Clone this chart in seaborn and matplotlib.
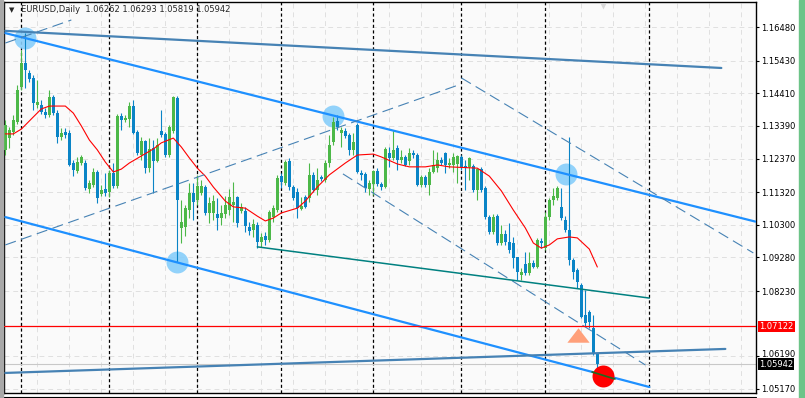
import numpy as np
import matplotlib
matplotlib.use("Agg")
import matplotlib.pyplot as plt
import matplotlib.transforms as mtransforms
from matplotlib.patches import Rectangle
from matplotlib.lines import Line2D
import seaborn as sns

sns.set_style("white")
plt.rcParams["font.family"] = ["DejaVu Sans"]

# --- EURUSD daily bars ---
opens = [
    1.1264, 1.1301, 1.1320, 1.1351, 1.1461, 1.1536, 1.1504, 1.1489, 1.1404, 1.1404,
    1.1382, 1.1373, 1.1429, 1.1379, 1.1304, 1.1320, 1.1317, 1.1223, 1.1198, 1.1223,
    1.1223, 1.1142, 1.1154, 1.1195, 1.1126, 1.1142, 1.1132, 1.1192, 1.1151, 1.1370,
    1.1357, 1.1361, 1.1401, 1.1320, 1.1248, 1.1292, 1.1207, 1.1270, 1.1229, 1.1323,
    1.1314, 1.1248, 1.1323, 1.1426, 1.1020, 1.1023, 1.1076, 1.1129, 1.1107, 1.1129,
    1.1148, 1.1067, 1.1067, 1.1064, 1.1051, 1.1064, 1.1076, 1.1092, 1.1117, 1.1073,
    1.1073, 1.1023, 1.1014, 1.1029, 1.0976, 1.0995, 1.0982, 1.1054, 1.1076, 1.1182,
    1.1161, 1.1229, 1.1148, 1.1132, 1.1079, 1.1117, 1.1114, 1.1186, 1.1139, 1.1179,
    1.1170, 1.1223, 1.1289, 1.1354, 1.1317, 1.1323, 1.1311, 1.1264, 1.1342, 1.1192,
    1.1189, 1.1142, 1.1157, 1.1198, 1.1157, 1.1148, 1.1254, 1.1239, 1.1270, 1.1232,
    1.1242, 1.1229, 1.1254, 1.1248, 1.1154, 1.1179, 1.1154, 1.1195, 1.1207, 1.1232,
    1.1254, 1.1217, 1.1217, 1.1220, 1.1242, 1.1214, 1.1211, 1.1214, 1.1139, 1.1204,
    1.1145, 1.1054, 1.1007, 1.1057, 1.0973, 1.1001, 1.0976, 1.0973, 1.0929, 1.0873,
    1.0907, 1.0879, 1.0911, 1.0898, 1.0979, 1.0957, 1.1054, 1.1107, 1.1114, 1.1086,
    1.1045, 1.1014, 1.0920, 1.0889, 1.0842, 1.0748, 1.0757, 1.0707, 1.06262,
]
highs = [
    1.1357, 1.1336, 1.1373, 1.1467, 1.1576, 1.1629, 1.1514, 1.1498, 1.1482, 1.1420,
    1.1395, 1.1451, 1.1436, 1.1389, 1.1332, 1.1332, 1.1326, 1.1232, 1.1242, 1.1248,
    1.1232, 1.1170, 1.1207, 1.1201, 1.1154, 1.1192, 1.1201, 1.1223, 1.1376, 1.1379,
    1.1373, 1.1414, 1.1420, 1.1326, 1.1304, 1.1295, 1.1301, 1.1295, 1.1301, 1.1389,
    1.1320, 1.1342, 1.1432, 1.1432, 1.1107, 1.1092, 1.1161, 1.1161, 1.1186, 1.1170,
    1.1154, 1.1117, 1.1123, 1.1114, 1.1092, 1.1120, 1.1142, 1.1164, 1.1120, 1.1098,
    1.1086, 1.1039, 1.1048, 1.1039, 1.1004, 1.1007, 1.1076, 1.1092, 1.1186, 1.1192,
    1.1232, 1.1239, 1.1154, 1.1145, 1.1117, 1.1123, 1.1223, 1.1195, 1.1207, 1.1186,
    1.1232, 1.1311, 1.1367, 1.1373, 1.1336, 1.1332, 1.1317, 1.1317, 1.1348, 1.1201,
    1.1195, 1.1170, 1.1201, 1.1207, 1.1164, 1.1273, 1.1273, 1.1326, 1.1279, 1.1264,
    1.1248, 1.1270, 1.1264, 1.1254, 1.1186, 1.1186, 1.1207, 1.1264, 1.1257, 1.1242,
    1.1257, 1.1239, 1.1254, 1.1248, 1.1248, 1.1232, 1.1242, 1.1220, 1.1207, 1.1211,
    1.1151, 1.1061, 1.1064, 1.1064, 1.1029, 1.1014, 1.1036, 1.0992, 1.0929, 1.0895,
    1.0945, 1.0945, 1.0920, 1.0989, 1.0989, 1.1070, 1.1114, 1.1145, 1.1151, 1.1145,
    1.1057, 1.1304, 1.0926, 1.0895, 1.0848, 1.0826, 1.0764, 1.0748, 1.06293,
]
lows = [
    1.1248, 1.1270, 1.1311, 1.1345, 1.1451, 1.1457, 1.1476, 1.1389, 1.1395, 1.1376,
    1.1364, 1.1367, 1.1373, 1.1286, 1.1295, 1.1301, 1.1214, 1.1182, 1.1192, 1.1217,
    1.1139, 1.1129, 1.1148, 1.1098, 1.1120, 1.1120, 1.1117, 1.1145, 1.1145, 1.1326,
    1.1351, 1.1336, 1.1314, 1.1248, 1.1232, 1.1192, 1.1195, 1.1129, 1.1226, 1.1304,
    1.1242, 1.1242, 1.1317, 1.0914, 1.0973, 1.0995, 1.1051, 1.1045, 1.1092, 1.1123,
    1.1061, 1.1036, 1.1045, 1.1014, 1.1029, 1.1051, 1.1061, 1.1039, 1.1023, 1.1067,
    1.1007, 1.0998, 1.0992, 1.0957, 1.0961, 1.0967, 1.0976, 1.1039, 1.1070, 1.1145,
    1.1154, 1.1139, 1.1107, 1.1051, 1.1076, 1.1082, 1.1101, 1.1132, 1.1123, 1.1167,
    1.1164, 1.1211, 1.1279, 1.1326, 1.1273, 1.1301, 1.1248, 1.1248, 1.1192, 1.1170,
    1.1132, 1.1123, 1.1123, 1.1151, 1.1139, 1.1145, 1.1211, 1.1232, 1.1201, 1.1223,
    1.1214, 1.1217, 1.1239, 1.1151, 1.1148, 1.1148, 1.1123, 1.1192, 1.1195, 1.1217,
    1.1192, 1.1207, 1.1195, 1.1161, 1.1201, 1.1139, 1.1170, 1.1132, 1.1107, 1.1132,
    1.1048, 1.1001, 1.1001, 1.0967, 1.0967, 1.0967, 1.0942, 1.0895, 1.0857, 1.0857,
    1.0873, 1.0873, 1.0895, 1.0895, 1.0957, 1.0951, 1.1045, 1.1092, 1.1107, 1.1045,
    1.1007, 1.0904, 1.0861, 1.0832, 1.0739, 1.0714, 1.0707, 1.0623, 1.05819,
]
closes = [
    1.1342, 1.1326, 1.1357, 1.1451, 1.1536, 1.1514, 1.1486, 1.1411, 1.1414, 1.1382,
    1.1373, 1.1429, 1.1379, 1.1304, 1.1317, 1.1311, 1.1217, 1.1201, 1.1226, 1.1242,
    1.1145, 1.1161, 1.1195, 1.1114, 1.1139, 1.1129, 1.1192, 1.1151, 1.1370, 1.1357,
    1.1364, 1.1401, 1.1317, 1.1254, 1.1292, 1.1207, 1.1267, 1.1229, 1.1279, 1.1311,
    1.1248, 1.1336, 1.1429, 1.1107, 1.1039, 1.1082, 1.1129, 1.1101, 1.1151, 1.1151,
    1.1067, 1.1098, 1.1104, 1.1051, 1.1067, 1.1092, 1.1117, 1.1101, 1.1036, 1.1086,
    1.1026, 1.1011, 1.1032, 1.0976, 1.0992, 1.0982, 1.1070, 1.1082, 1.1176, 1.1164,
    1.1226, 1.1148, 1.1114, 1.1082, 1.1089, 1.1086, 1.1186, 1.1139, 1.1170, 1.1173,
    1.1223, 1.1279, 1.1351, 1.1336, 1.1326, 1.1307, 1.1264, 1.1289, 1.1195, 1.1186,
    1.1145, 1.1161, 1.1198, 1.1157, 1.1148, 1.1267, 1.1239, 1.1264, 1.1232, 1.1242,
    1.1217, 1.1254, 1.1248, 1.1154, 1.1179, 1.1154, 1.1195, 1.1217, 1.1232, 1.1223,
    1.1217, 1.1223, 1.1242, 1.1245, 1.1211, 1.1207, 1.1239, 1.1139, 1.1204, 1.1139,
    1.1054, 1.1007, 1.1054, 1.0973, 1.1001, 1.0976, 1.0951, 1.0926, 1.0882, 1.0882,
    1.0879, 1.0911, 1.0898, 1.0982, 1.0973, 1.1054, 1.1107, 1.1120, 1.1145, 1.1051,
    1.1014, 1.0920, 1.0882, 1.0851, 1.0742, 1.0723, 1.0726, 1.0629, 1.05942,
]

# moving average (bar number, value)
ma_bars = [1, 3, 5, 8, 10, 12, 16, 18, 20, 22, 24, 26, 28, 30, 32, 35, 38, 40, 43, 45,
           47, 49, 51, 53, 56, 58, 61, 64, 66, 68, 70, 74, 76, 79, 82, 86, 89, 93, 95, 99,
           102, 106, 109, 112, 119, 122, 125, 128, 131, 133, 135, 137, 139, 142, 144, 147, 149]
ma_vals = [1.1314, 1.1314, 1.1329, 1.1367, 1.1392, 1.1401, 1.1401, 1.1379, 1.1339, 1.1295,
           1.1264, 1.1226, 1.1195, 1.1204, 1.1223, 1.1245, 1.1267, 1.1286, 1.1301, 1.1273,
           1.1239, 1.1207, 1.1182, 1.1148, 1.1104, 1.1086, 1.1082, 1.1057, 1.1042, 1.1051,
           1.1067, 1.1082, 1.1104, 1.1148, 1.1186, 1.1223, 1.1248, 1.1251, 1.1242, 1.1220,
           1.1211, 1.1211, 1.1217, 1.1211, 1.1207, 1.1182, 1.1136, 1.1076, 1.1020, 1.0973,
           1.0957, 1.0967, 1.0986, 1.0992, 1.0989, 1.0954, 1.0898]

# trend lines / objects
chan_top_bars, chan_top_prices = [1, 188.5], [1.1629, 1.1040]
chan_bot_bars, chan_bot_prices = [1, 162], [1.1054, 1.0523]
flat_top_bars, flat_top_prices = [1, 180], [1.1636, 1.1520]
flat_bot_bars, flat_bot_prices = [1, 181], [1.0567, 1.0642]
rise_dash_bars, rise_dash_prices = [1, 115], [1.0967, 1.1470]
rise_dash2_bars, rise_dash2_prices = [1, 17.5], [1.1598, 1.1670]
fall_dash_bars, fall_dash_prices = [115, 188], [1.1489, 1.0942]
fall_dash2_bars, fall_dash2_prices = [85.4, 161], [1.1189, 1.0592]
teal_bars, teal_prices = [64, 162], [1.0961, 1.0801]
mark_bars, mark_prices = [147.7, 153.4], [1.0570, 1.0548]
touch_bars = [5.9, 43.9, 82.9, 141.2]
touch_prices = [1.1614, 1.0914, 1.1370, 1.1189]
red_dot_bar, red_dot_price = 150.4, 1.0557
arrow_bar, arrow_price = 144.2, 1.0686

separator_bars = [5, 27, 49, 70, 93, 115, 136, 162]
price_ticks = [1.16480, 1.15430, 1.14410, 1.13390, 1.12370, 1.11320,
               1.10300, 1.09280, 1.08230, 1.06190, 1.05170]
level_price = 1.07122
bid_price = 1.05942
header = "EURUSD,Daily  1.06262 1.06293 1.05819 1.05942"

BULL = "#4cb848"
BEAR = "#0a84c6"

W, H = 805, 398
fig = plt.figure(figsize=(W / 100, H / 100), dpi=100)
fig.patch.set_facecolor("white")
ax = fig.add_axes([4 / W, 5 / H, 752 / W, 391 / H])
ax.set_facecolor("#fafafa")
ax.set_xlim(0.667, 188.667)
ax.set_ylim(1.05043, 1.17262)

# grid
ax.set_xticks(np.arange(9, 189, 8))
ax.set_yticks(price_ticks)
ax.grid(True, color="#e0e0e0", lw=0.7, linestyle=(0, (5, 4)), zorder=0)
ax.set_axisbelow(True)
for b in separator_bars:
    ax.axvline(b, color="black", lw=0.9, linestyle=(0, (2.5, 2)), zorder=1)

# candles
bars = np.arange(1, len(opens) + 1)
o, hi, lo, c = map(np.array, (opens, highs, lows, closes))
cols = np.where(c >= o, BULL, BEAR)
ax.vlines(bars, lo, hi, colors=cols, lw=0.8, zorder=3)
ax.bar(bars, np.maximum(np.abs(c - o), 0.0003), bottom=np.minimum(o, c),
       width=0.72, color=cols, linewidth=0, zorder=3)

sns.scatterplot(x=touch_bars, y=touch_prices, ax=ax, s=250, color="#87cefa",
                alpha=0.9, linewidth=0, zorder=2, legend=False)
sns.lineplot(x=ma_bars, y=ma_vals, ax=ax, color="red", lw=0.8,
             sort=False, estimator=None, zorder=3.5)

ax.plot(chan_top_bars, chan_top_prices, color="#1e90ff", lw=1.6, zorder=4)
ax.plot(chan_bot_bars, chan_bot_prices, color="#1e90ff", lw=1.6, zorder=4)
ax.plot(flat_top_bars, flat_top_prices, color="#4682b4", lw=1.6, zorder=4)
ax.plot(flat_bot_bars, flat_bot_prices, color="#4682b4", lw=1.6, zorder=4)
for bx, py in [(rise_dash_bars, rise_dash_prices), (rise_dash2_bars, rise_dash2_prices),
               (fall_dash_bars, fall_dash_prices), (fall_dash2_bars, fall_dash2_prices)]:
    ax.plot(bx, py, color="#4682b4", lw=0.8, linestyle=(0, (10, 5)), zorder=4)
ax.plot(teal_bars, teal_prices, color="#008080", lw=1.1, zorder=4)

ax.axhline(level_price, color="red", lw=0.9, zorder=4)
ax.axhline(bid_price, color="#c8c8c8", lw=0.8, zorder=1)

ax.scatter([red_dot_bar], [red_dot_price], s=250, color="red", linewidth=0, zorder=5)
ax.plot(mark_bars, mark_prices, color="#1e6b1e", lw=1.2, zorder=6)
ax.scatter([arrow_bar], [arrow_price], s=16 ** 2, color="#ffa07a", linewidth=0,
           marker=[(-1, -0.65), (1, -0.65), (0, 0.65)], zorder=5)
ax.scatter([150.5], [1.1714], s=18, marker="v", color="#d8d8d8", linewidth=0,
           zorder=5, clip_on=False)

# axes look
for sp in ax.spines.values():
    sp.set_visible(True)
    sp.set_color("black")
    sp.set_linewidth(1)
ax.yaxis.tick_right()
ax.set_yticklabels([f"{p:.5f}" for p in price_ticks])
ax.tick_params(axis="y", which="both", right=True, left=False, length=2.5, width=0.8,
               pad=1.5, labelsize=6, colors="black")
ax.tick_params(axis="x", length=0, labelbottom=False)
ax.set_xlabel("")
ax.set_ylabel("")

# the 1.06190 label sits just above the bid box, nudge it up a little
nudge = mtransforms.ScaledTranslation(0, 3 / 100, fig.dpi_scale_trans)
for lab in ax.get_yticklabels():
    if lab.get_text() == "1.06190":
        lab.set_transform(lab.get_transform() + nudge)

trans = mtransforms.blended_transform_factory(ax.transAxes, ax.transData)
ax.text(1.004, level_price, f"{level_price:.5f}", transform=trans, ha="left", va="center",
        fontsize=6, color="white", clip_on=False, zorder=10,
        bbox=dict(boxstyle="square,pad=0.15", fc="red", ec="none"))
ax.text(1.004, bid_price, f"{bid_price:.5f}", transform=trans, ha="left", va="center",
        fontsize=6, color="white", clip_on=False, zorder=10,
        bbox=dict(boxstyle="square,pad=0.15", fc="black", ec="none"))

# header and window chrome
fig.text(21 / W, 1 - 10 / H, header, fontsize=6, ha="left", va="center")
fig.text(9 / W, 1 - 10 / H, "\u25bc", fontsize=5, ha="left", va="center")
fig.patches.append(Rectangle((0, 0), 3 / W, 1, transform=fig.transFigure,
                             color="#a8a8a8", zorder=0))
fig.patches.append(Rectangle((799 / W, 0), 6 / W, 1, transform=fig.transFigure,
                             color="#6cc488", zorder=0))
fig.lines.append(Line2D([4 / W, 756 / W], [1.5 / H, 1.5 / H], transform=fig.transFigure,
                        color="black", lw=0.8))

fig.savefig("out.png", dpi=100)
